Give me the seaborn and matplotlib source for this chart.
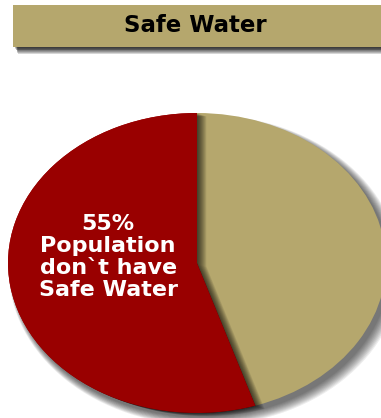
import matplotlib
matplotlib.use("Agg")
import matplotlib.pyplot as plt
import matplotlib.patches as mpatches
import seaborn as sns

title = "Safe Water"
categories = ["Population don`t have Safe Water", "Population have Safe Water"]
values = [55, 45]
label_text = "55%\nPopulation\ndon`t have\nSafe Water"

sns.set_theme(style="white")
plt.rcParams['font.family'] = ['DejaVu Sans']

RED = "#990000"
TAN = "#B5A76D"
palette = sns.color_palette([RED, TAN])

W, H = 381, 418
fig = plt.figure(figsize=(W / 100, H / 100), dpi=100)
fig.patch.set_facecolor("white")

def fx(px):
    return px / W
def fy(py):
    return 1 - py / H

# header bar with soft shadow
for i in range(8):
    fig.patches.append(mpatches.Rectangle((fx(15 + i * 0.4), fy(48 + i * 0.8)), 1.0, fy(8) - fy(48),
                                          transform=fig.transFigure, facecolor="black",
                                          alpha=0.16, edgecolor="none", zorder=0))
fig.patches.append(mpatches.Rectangle((fx(13), fy(47)), 1.0, fy(5) - fy(47),
                                      transform=fig.transFigure, facecolor=TAN,
                                      edgecolor="none", zorder=1))
fig.text(fx(195), fy(26), title, ha="center", va="center", fontsize=16.5,
         fontweight="bold", color="black", zorder=2)

# pie axes (elliptical pie)
ax = fig.add_axes([fx(8), fy(413), fx(386) - fx(8), fy(113) - fy(413)])

# outer soft shadow
for i in range(10):
    ax.pie([1], colors=["black"], radius=1.0 + i * 0.004,
           center=(0.022 + i * 0.002, -0.03 - i * 0.002),
           startangle=90, wedgeprops=dict(alpha=0.07, linewidth=0))

# main pie
wedges, _ = ax.pie(values, colors=palette, startangle=90, counterclock=True,
                   wedgeprops=dict(linewidth=0))
tan_wedge = wedges[1]

# shadow cast by red wedge onto tan wedge
for i in range(10):
    sw, _ = ax.pie(values, colors=["black", "black"], startangle=90, counterclock=True,
                   center=(0.004 + i * 0.005, -0.004 - i * 0.002),
                   wedgeprops=dict(linewidth=0, alpha=0.085))
    sw[1].remove()
    sw[0].set_clip_path(tan_wedge)

# red wedge on top
top, _ = ax.pie(values, colors=[RED, TAN], startangle=90, counterclock=True,
                wedgeprops=dict(linewidth=0))
top[1].remove()

ax.text(-0.47, 0.04, label_text, ha="center", va="center", fontsize=16,
        fontweight="bold", color="white", linespacing=1.12)

ax.set_aspect("auto")
ax.set_xlim(-1, 1)
ax.set_ylim(-1, 1)
ax.axis("off")

fig.savefig("out.png", dpi=100, facecolor="white")
